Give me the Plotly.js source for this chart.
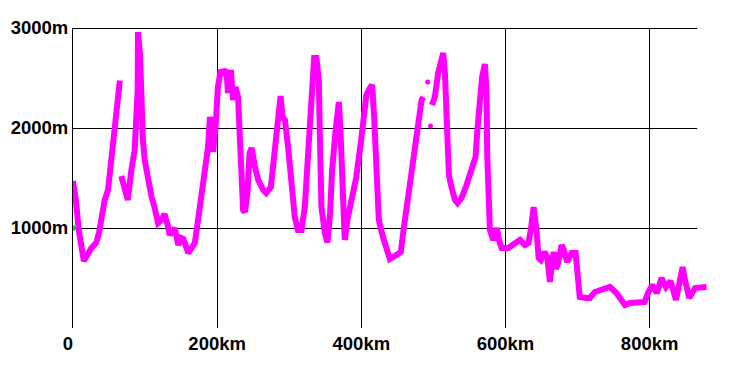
<!DOCTYPE html>
<html>
<head>
<meta charset="utf-8">
<script src="https://cdn.plot.ly/plotly-3.0.1.min.js"></script>
<style>html,body{margin:0;padding:0;background:#fff;}#chart{width:735px;height:366px;}</style>
</head>
<body>
<div id="chart"></div>
<script>
// Elevation profile (distance in km, elevation in m); null = gap in the profile
const distanceKm = [
  0, 4, 8, 12, 15, 25.5, 32, 36, 39, 44, 48.6, 53, 58, 61.6, 65,
  null,
  67, 70.4, 74, 76, 81, 83, 85.6, 89.7, 90.2, 93, 95, 97, 99.5, 104, 109, 113, 118, 122.6, 127, 132, 134, 141, 146, 150, 153, 160, 167, 169, 173.5, 178, 183, 187.4, 190, 192, 194.3, 197.6, 201, 205, 208, 213, 215, 219, 222, 225.4, 229, 230.4, 233.8, 236, 238.5, 242, 245, 248, 252.4, 257, 264, 268, 274.5, 280, 284.5, 288, 290.6, 294, 298.4, 303, 307.7, 312, 317, 321.6, 326, 330.9, 334.5, 337.8, 341, 342.4, 344.7, 349.3, 353, 356.7, 359.5, 364, 368.8, 371, 373.4, 377, 380.7, 386, 393, 399.3, 404, 407, 411.8, 415, 417.8, 421, 424.3, 430, 435, 439.6, 446.5, 454.8, 458, 462.8, 468.7, 474, 479, 483.6, 486,
  null,
  498, 502, 506.6, 510, 513.6, 516, 518, 521.5, 525, 530, 533.5, 535, 539, 546, 553, 558.5, 561, 565, 567.6, 571.4, 573.8, 574.6, 576, 578.4, 583, 588, 591, 594.6, 603.8, 613, 620, 627, 632, 635.7, 639, 643, 646, 649, 654, 658, 661.6, 665, 667, 670, 673, 677.8, 681, 685.6, 691.7, 697.3, 700, 703, 712, 717, 724, 731, 744.8, 754, 765.8, 772.7, 793, 797.6, 803.6, 810, 816.6, 822.7, 829, 836.5, 841, 845.7, 849, 855, 863, 879
];
const elevationM = [
  1470, 1280, 980, 730, 670, 800, 850, 950, 1080, 1280, 1380, 1680, 1980, 2250, 2475,
  null,
  1520, 1430, 1300, 1280, 1580, 1730, 1780, 2380, 2960, 2730, 2180, 1880, 1680, 1480, 1310, 1210, 1050, 1080, 1140, 1010, 930, 1000, 830, 900, 890, 750, 810, 850, 1080, 1310, 1580, 1810, 2110, 2010, 1760, 1980, 2410, 2580, 2550, 2580, 2350, 2580, 2280, 2410, 2310, 2080, 1580, 1180, 1160, 1350, 1750, 1800, 1610, 1480, 1380, 1350, 1410, 1750, 2010, 2320, 2110, 2080, 1810, 1410, 1110, 980, 980, 1210, 1680, 2310, 2700, 2700, 2480, 1950, 1210, 950, 855, 1150, 1580, 1950, 2260, 1980, 1480, 880, 1080, 1280, 1510, 1850, 2150, 2330, 2400, 2430, 2110, 1580, 1080, 910, 780, 690, 720, 760, 950, 1210, 1550, 1780, 2050, 2280, 2310,
  null,
  2230, 2310, 2550, 2650, 2750, 2550, 2080, 1530, 1410, 1280, 1250, 1260, 1300, 1430, 1600, 1710, 1980, 2310, 2510, 2640, 2350, 1750, 1150, 980, 880, 1000, 880, 800, 800, 840, 880, 830, 850, 1010, 1210, 980, 700, 680, 760, 710, 460, 680, 760, 590, 650, 830, 780, 660, 750, 750, 550, 310, 300, 300, 360, 380, 410, 350, 230, 250, 260, 350, 430, 350, 500, 410, 470, 280, 450, 610, 480, 300, 400, 410
];
// isolated survey points
const dotKm = [492, 496];
const dotM = [2460, 2020];
// start marker
const startKm = [0];
const startM = [1000];

const xTickVals = [0, 200, 400, 600, 800];
const xTickText = ['0\u00a0\u00a0', '200km', '400km', '600km', '800km'];
const yTickVals = [1000, 2000, 3000];
const yTickText = ['1000m', '2000m', '3000m'];
const hGridVals = [0, 1000, 2000, 3000];
const gridEndKm = 866;
const baseEndKm = 869;

const magenta = '#ff00ff';
const traces = [
  {x: startKm, y: startM, type: 'scatter', mode: 'markers',
   marker: {color: '#00e000', size: 5, symbol: 'square'}, hoverinfo: 'skip'},
  {x: distanceKm, y: elevationM, type: 'scatter', mode: 'lines',
   line: {color: magenta, width: 6}, connectgaps: false},
  {x: dotKm, y: dotM, type: 'scatter', mode: 'markers',
   marker: {color: magenta, size: 5}}
];

// horizontal grid: 1px crisp bars that stop short of the right edge of the plot area
const shapes = hGridVals.map(v => ({type: 'rect', xref: 'x', yref: 'y', ysizemode: 'pixel', yanchor: v,
  y0: 0, y1: -1, x0: v === 0 ? -2 : 0, x1: v === 0 ? baseEndKm : gridEndKm,
  fillcolor: '#000', line: {width: 0}, layer: 'below'}));

const tickFont = {family: 'Liberation Sans, Arial, sans-serif', size: 18.5, color: '#000', weight: 'bold'};
const layout = {
  width: 735, height: 366,
  margin: {l: 73, r: 23, t: 28, b: 38},
  paper_bgcolor: '#fff', plot_bgcolor: '#fff',
  showlegend: false,
  xaxis: {range: [0, 886.5], tickvals: xTickVals, ticktext: xTickText, showgrid: true, gridcolor: '#000', gridwidth: 1,
    zeroline: false, showline: false, ticks: '', tickfont: tickFont, ticklabelstandoff: 2, fixedrange: true},
  yaxis: {range: [0, 3000], tickvals: yTickVals, ticktext: yTickText, showgrid: false,
    zeroline: false, showline: true, linecolor: '#000', linewidth: 1, ticks: '', tickfont: tickFont, fixedrange: true},
  shapes: shapes
};
Plotly.newPlot('chart', traces, layout, {staticPlot: true, displayModeBar: false});
</script>
</body>
</html>
